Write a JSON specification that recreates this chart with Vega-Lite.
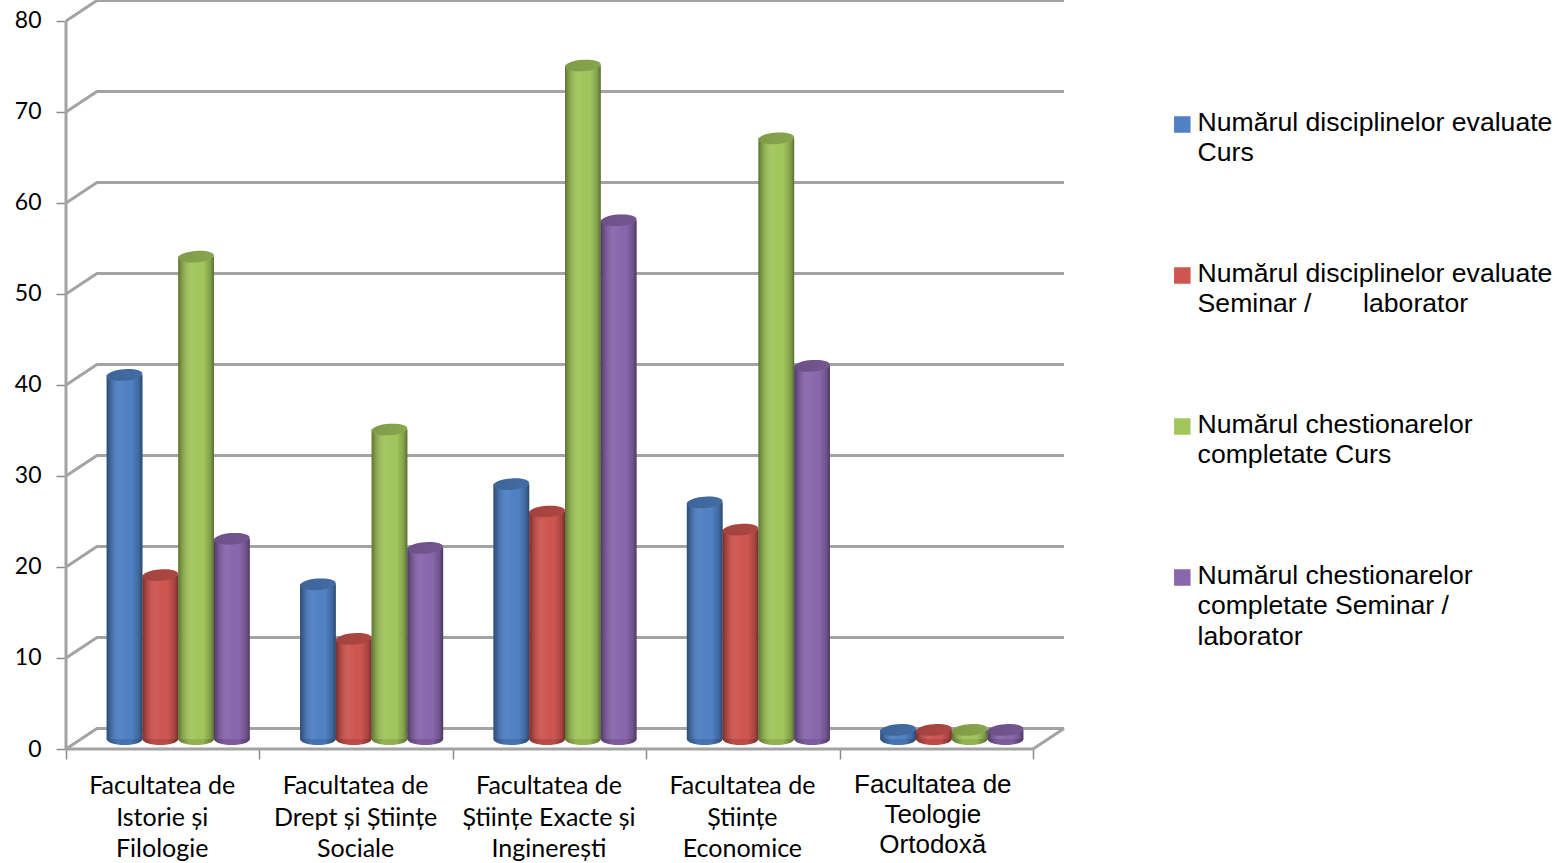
{
"$schema":"https://vega.github.io/schema/vega-lite/v6.json",
"width":999,"height":749,
"autosize":{"type":"none"},
"padding":{"left":66,"top":0,"right":497,"bottom":114},
"background":"white",
"config":{"view":{"stroke":null},"axis":{"grid":false,"title":null}},
"datasets":{
"bars":[
{"facultate":"Istorie","serie":"Numărul disciplinelor evaluate\nCurs","value":40},
{"facultate":"Istorie","serie":"Numărul disciplinelor evaluate\nSeminar /\u00a0\u00a0\u00a0\u00a0\u00a0\u00a0\u00a0laborator","value":18},
{"facultate":"Istorie","serie":"Numărul chestionarelor\ncompletate Curs","value":53},
{"facultate":"Istorie","serie":"Numărul chestionarelor\ncompletate Seminar /\nlaborator","value":22},
{"facultate":"Drept","serie":"Numărul disciplinelor evaluate\nCurs","value":17},
{"facultate":"Drept","serie":"Numărul disciplinelor evaluate\nSeminar /\u00a0\u00a0\u00a0\u00a0\u00a0\u00a0\u00a0laborator","value":11},
{"facultate":"Drept","serie":"Numărul chestionarelor\ncompletate Curs","value":34},
{"facultate":"Drept","serie":"Numărul chestionarelor\ncompletate Seminar /\nlaborator","value":21},
{"facultate":"Exacte","serie":"Numărul disciplinelor evaluate\nCurs","value":28},
{"facultate":"Exacte","serie":"Numărul disciplinelor evaluate\nSeminar /\u00a0\u00a0\u00a0\u00a0\u00a0\u00a0\u00a0laborator","value":25},
{"facultate":"Exacte","serie":"Numărul chestionarelor\ncompletate Curs","value":74},
{"facultate":"Exacte","serie":"Numărul chestionarelor\ncompletate Seminar /\nlaborator","value":57},
{"facultate":"Economice","serie":"Numărul disciplinelor evaluate\nCurs","value":26},
{"facultate":"Economice","serie":"Numărul disciplinelor evaluate\nSeminar /\u00a0\u00a0\u00a0\u00a0\u00a0\u00a0\u00a0laborator","value":23},
{"facultate":"Economice","serie":"Numărul chestionarelor\ncompletate Curs","value":66},
{"facultate":"Economice","serie":"Numărul chestionarelor\ncompletate Seminar /\nlaborator","value":41},
{"facultate":"Teologie","serie":"Numărul disciplinelor evaluate\nCurs","value":1},
{"facultate":"Teologie","serie":"Numărul disciplinelor evaluate\nSeminar /\u00a0\u00a0\u00a0\u00a0\u00a0\u00a0\u00a0laborator","value":1},
{"facultate":"Teologie","serie":"Numărul chestionarelor\ncompletate Curs","value":1},
{"facultate":"Teologie","serie":"Numărul chestionarelor\ncompletate Seminar /\nlaborator","value":1}
],
"wall":[
{"line":"g0","a":0,"b":0},{"line":"g0","a":0.16,"b":2.25},{"line":"g0","a":5.16,"b":2.25},
{"line":"floor","a":0,"b":0},{"line":"floor","a":5,"b":0},
{"line":"side","a":5,"b":0},{"line":"side","a":5.16,"b":2.25},
{"line":"g10","a":0,"b":10},{"line":"g10","a":0.16,"b":12.25},{"line":"g10","a":5.16,"b":12.25},
{"line":"g20","a":0,"b":20},{"line":"g20","a":0.16,"b":22.25},{"line":"g20","a":5.16,"b":22.25},
{"line":"g30","a":0,"b":30},{"line":"g30","a":0.16,"b":32.25},{"line":"g30","a":5.16,"b":32.25},
{"line":"g40","a":0,"b":40},{"line":"g40","a":0.16,"b":42.25},{"line":"g40","a":5.16,"b":42.25},
{"line":"g50","a":0,"b":50},{"line":"g50","a":0.16,"b":52.25},{"line":"g50","a":5.16,"b":52.25},
{"line":"g60","a":0,"b":60},{"line":"g60","a":0.16,"b":62.25},{"line":"g60","a":5.16,"b":62.25},
{"line":"g70","a":0,"b":70},{"line":"g70","a":0.16,"b":72.25},{"line":"g70","a":5.16,"b":72.25},
{"line":"g80","a":0,"b":80},{"line":"g80","a":0.16,"b":82.25},{"line":"g80","a":5.16,"b":82.25},
{"line":"front","a":0,"b":0},{"line":"front","a":0,"b":80}
],
"labels":[
{"facultate":"Istorie","text":"Facultatea de\nIstorie și\nFilologie"},
{"facultate":"Drept","text":"Facultatea de\nDrept și Științe\nSociale"},
{"facultate":"Exacte","text":"Facultatea de\nȘtiințe Exacte și\nInginerești"},
{"facultate":"Economice","text":"Facultatea de\nȘtiințe\nEconomice"}
],
"labels2":[
{"facultate":"Teologie","text":"Facultatea de\nTeologie\nOrtodoxă"}
]
},
"resolve":{"scale":{"x":"independent"}},
"layer":[
{"data":{"name":"wall"},
 "mark":{"type":"line","color":"#a3a3a3","strokeWidth":3,"interpolate":"linear"},
 "encoding":{
  "x":{"field":"a","type":"quantitative","scale":{"domain":[0,5.165],"range":[0,999],"nice":false,"zero":false},
       "axis":{"values":[0,1,2,3,4,5],"labels":false,"domain":false,"ticks":true,"tickSize":10,"tickColor":"#8c8c8c","tickWidth":1.5}},
  "y":{"field":"b","type":"quantitative","scale":{"domain":[0,82.3],"nice":false},
       "axis":{"values":[0,10,20,30,40,50,60,70,80],"domain":false,"tickSize":10,"tickColor":"#8c8c8c","tickWidth":1.5,"labelFont":"Lato","labelFontSize":23,"labelColor":"#000000","labelPadding":15}},
  "detail":{"field":"line"}
 }},
{"data":{"name":"bars"},
 "mark":{"type":"point","filled":true,"opacity":1,"size":1275,"yOffset":-10,"shape":"M-1,0A1,0.34 0 1,1 1,0A1,0.34 0 1,1 -1,0Z"},
 "encoding":{
  "x":{"field":"facultate","type":"nominal","sort":["Istorie","Drept","Exacte","Economice","Teologie"],"scale":{"domain":["Istorie","Drept","Exacte","Economice","Teologie"],"range":[15.5,982.5],"paddingInner":0.26,"paddingOuter":0.13},"axis":null},
  "xOffset":{"field":"serie","type":"nominal","sort":null},
  "y":{"datum":0,"type":"quantitative"},
  "color":{"field":"serie","type":"nominal"}
 }},
{"data":{"name":"bars"},
 "mark":{"type":"point","filled":true,"opacity":1,"size":1275,"yOffset":-10,"shape":"M-1,0A1,0.34 0 1,1 1,0A1,0.34 0 1,1 -1,0Z","fill":{"x1":0,"y1":0,"x2":1,"y2":0,"gradient":"linear","stops":[{"offset":0,"color":"rgba(0,0,0,0.4)"},{"offset":0.3,"color":"rgba(0,0,0,0.1)"},{"offset":0.7,"color":"rgba(0,0,0,0.1)"},{"offset":1,"color":"rgba(0,0,0,0.45)"}]}},
 "encoding":{
  "x":{"field":"facultate","type":"nominal","sort":["Istorie","Drept","Exacte","Economice","Teologie"],"scale":{"domain":["Istorie","Drept","Exacte","Economice","Teologie"],"range":[15.5,982.5],"paddingInner":0.26,"paddingOuter":0.13},"axis":null},
  "xOffset":{"field":"serie","type":"nominal","sort":null},
  "y":{"datum":0,"type":"quantitative"}
 }},
{"data":{"name":"bars"},
 "mark":{"type":"bar","yOffset":-10,"y2Offset":-10},
 "encoding":{
  "x":{"field":"facultate","type":"nominal","sort":["Istorie","Drept","Exacte","Economice","Teologie"],"scale":{"domain":["Istorie","Drept","Exacte","Economice","Teologie"],"range":[15.5,982.5],"paddingInner":0.26,"paddingOuter":0.13},"axis":null},
  "xOffset":{"field":"serie","type":"nominal","sort":null},
  "y":{"field":"value","type":"quantitative","stack":null},
  "y2":{"datum":0},
  "color":{"field":"serie","type":"nominal",
    "scale":{"domain":["Numărul disciplinelor evaluate\nCurs","Numărul disciplinelor evaluate\nSeminar /\u00a0\u00a0\u00a0\u00a0\u00a0\u00a0\u00a0laborator","Numărul chestionarelor\ncompletate Curs","Numărul chestionarelor\ncompletate Seminar /\nlaborator"],"range":["#4f81c4","#cf5550","#a2c65c","#8a67ad"]},
    "legend":{"title":null,"orient":"none","legendX":1103,"legendY":49,"padding":0,"symbolType":"square","symbolSize":272,"symbolStrokeWidth":0,"clipHeight":151,"rowPadding":0,"labelFont":"Liberation Sans","labelFontSize":26.6,"labelColor":"#000000","labelLimit":420,"labelOffset":2,"labelBaseline":"top","labelExpr":"split(datum.label,'\\n')","encoding":{"labels":{"dy":{"value":-15},"lineHeight":{"value":30.5}}}}}
 }},
{"data":{"name":"bars"},
 "mark":{"type":"bar","yOffset":-10,"y2Offset":-10,"fill":{"x1":0,"y1":0,"x2":1,"y2":0,"gradient":"linear","stops":[{"offset":0,"color":"rgba(0,0,0,0.42)"},{"offset":0.12,"color":"rgba(0,0,0,0.18)"},{"offset":0.4,"color":"rgba(255,255,255,0.04)"},{"offset":0.7,"color":"rgba(0,0,0,0)"},{"offset":0.9,"color":"rgba(0,0,0,0.2)"},{"offset":1,"color":"rgba(0,0,0,0.45)"}]}},
 "encoding":{
  "x":{"field":"facultate","type":"nominal","sort":["Istorie","Drept","Exacte","Economice","Teologie"],"scale":{"domain":["Istorie","Drept","Exacte","Economice","Teologie"],"range":[15.5,982.5],"paddingInner":0.26,"paddingOuter":0.13},"axis":null},
  "xOffset":{"field":"serie","type":"nominal","sort":null},
  "y":{"field":"value","type":"quantitative","stack":null},
  "y2":{"datum":0}
 }},
{"data":{"name":"bars"},
 "mark":{"type":"point","filled":true,"opacity":1,"size":1275,"yOffset":-10,"shape":"M-1,0.06A1,0.32 -4 1,1 1,-0.06A1,0.32 -4 1,1 -1,0.06Z"},
 "encoding":{
  "x":{"field":"facultate","type":"nominal","sort":["Istorie","Drept","Exacte","Economice","Teologie"],"scale":{"domain":["Istorie","Drept","Exacte","Economice","Teologie"],"range":[15.5,982.5],"paddingInner":0.26,"paddingOuter":0.13},"axis":null},
  "xOffset":{"field":"serie","type":"nominal","sort":null},
  "y":{"field":"value","type":"quantitative"},
  "color":{"field":"serie","type":"nominal"}
 }},
{"data":{"name":"bars"},
 "mark":{"type":"point","filled":true,"opacity":1,"size":1275,"yOffset":-10,"shape":"M-1,0.06A1,0.32 -4 1,1 1,-0.06A1,0.32 -4 1,1 -1,0.06Z","fill":{"x1":0,"y1":0,"x2":1,"y2":0,"gradient":"linear","stops":[{"offset":0,"color":"rgba(0,0,0,0.22)"},{"offset":1,"color":"rgba(0,0,0,0.16)"}]}},
 "encoding":{
  "x":{"field":"facultate","type":"nominal","sort":["Istorie","Drept","Exacte","Economice","Teologie"],"scale":{"domain":["Istorie","Drept","Exacte","Economice","Teologie"],"range":[15.5,982.5],"paddingInner":0.26,"paddingOuter":0.13},"axis":null},
  "xOffset":{"field":"serie","type":"nominal","sort":null},
  "y":{"field":"value","type":"quantitative"}
 }},
{"data":{"name":"labels"},
 "mark":{"type":"text","font":"Lato","fontSize":25,"color":"#000000","lineBreak":"\n","lineHeight":31.5,"baseline":"top","align":"center","dx":-16,"dy":25},
 "encoding":{
  "x":{"field":"facultate","type":"nominal","sort":["Istorie","Drept","Exacte","Economice","Teologie"],"scale":{"domain":["Istorie","Drept","Exacte","Economice","Teologie"],"range":[15.5,982.5],"paddingInner":0.26,"paddingOuter":0.13},"axis":null},
  "y":{"datum":0,"type":"quantitative"},
  "text":{"field":"text"}
 }},
{"data":{"name":"labels2"},
 "mark":{"type":"text","font":"Liberation Sans","fontSize":26,"color":"#000000","lineBreak":"\n","lineHeight":30,"baseline":"top","align":"center","dx":-19,"dy":23},
 "encoding":{
  "x":{"field":"facultate","type":"nominal","sort":["Istorie","Drept","Exacte","Economice","Teologie"],"scale":{"domain":["Istorie","Drept","Exacte","Economice","Teologie"],"range":[15.5,982.5],"paddingInner":0.26,"paddingOuter":0.13},"axis":null},
  "y":{"datum":0,"type":"quantitative"},
  "text":{"field":"text"}
 }}
]
}
